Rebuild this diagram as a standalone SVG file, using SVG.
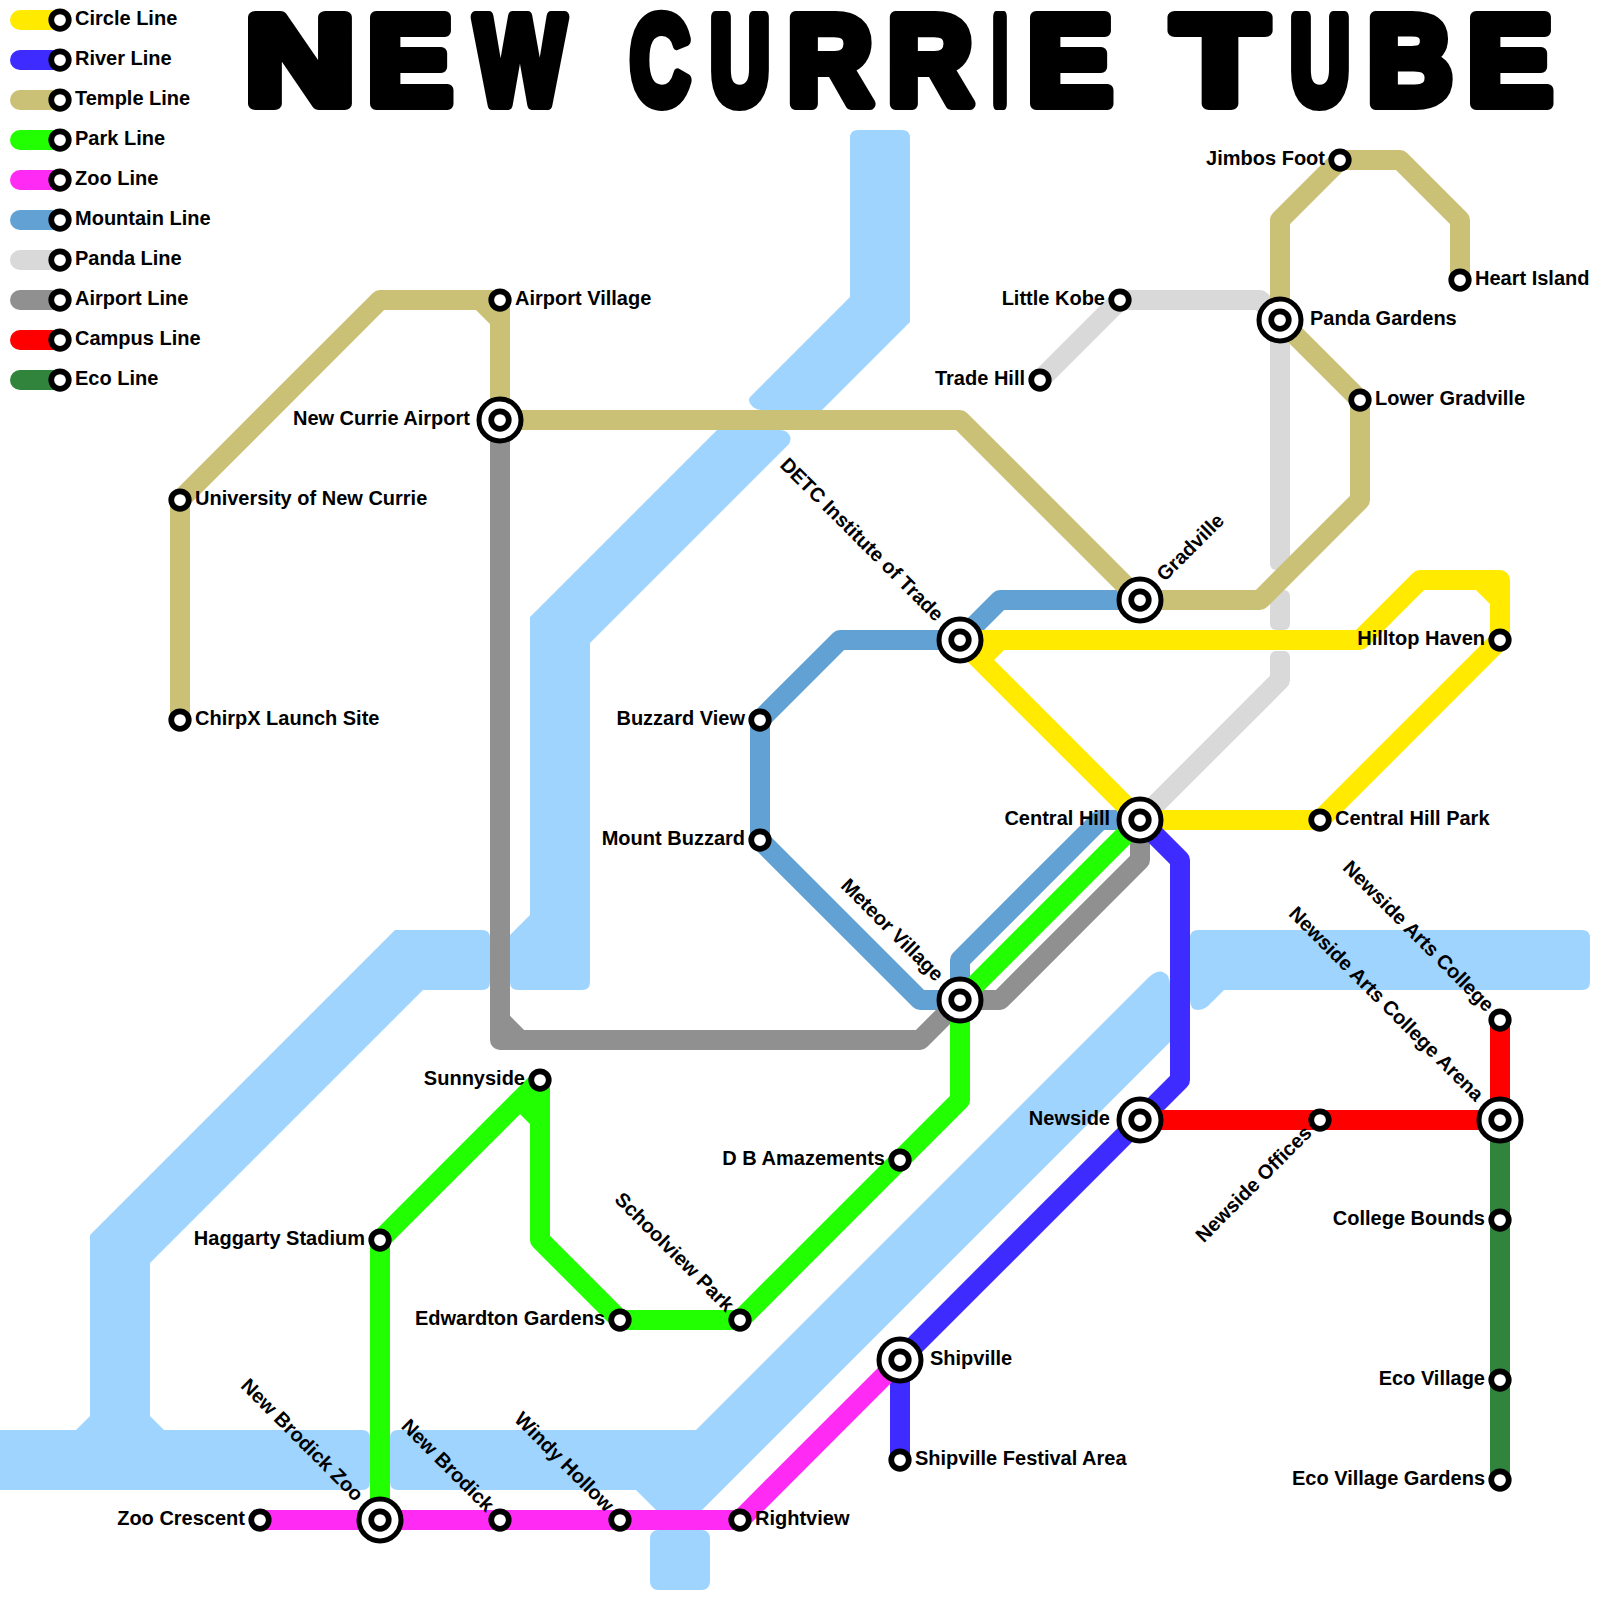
<svg xmlns="http://www.w3.org/2000/svg" width="1600" height="1600" viewBox="0 0 1600 1600">
<style>
text{font-family:"Liberation Sans",Arial,sans-serif;font-weight:bold;font-size:20px;fill:#000}
.e{text-anchor:end}
.title{font-size:127px;stroke:#000;stroke-width:12;stroke-linejoin:round}
.ln{fill:none;stroke-width:20;stroke-linecap:round;stroke-linejoin:round}
.water{fill:#9fd4ff}
.o{fill:#fff;stroke:#000;stroke-width:5.75}
.ring{fill:#fff;stroke:#000;stroke-width:5}
.yellow{stroke:#ffea00}.river{stroke:#3d2bff}.temple{stroke:#cac176}.park{stroke:#22ff00}.zoo{stroke:#ff2bf5}.mountain{stroke:#62a1d3}.panda{stroke:#d9d9d9}.airport{stroke:#909090}.campus{stroke:#ff0000}.eco{stroke:#31843c}
</style>
<defs>
<g id="st"><circle class="o" r="8.75"/></g>
<g id="big"><circle class="ring" r="21"/><circle class="o" r="8.75"/></g>
</defs>
<text class="title" y="104"><tspan x="245" textLength="110" lengthAdjust="spacingAndGlyphs">N</tspan><tspan x="367.5" textLength="85" lengthAdjust="spacingAndGlyphs">E</tspan><tspan x="475" textLength="90" lengthAdjust="spacingAndGlyphs">W</tspan> <tspan x="630" textLength="60" lengthAdjust="spacingAndGlyphs">C</tspan><tspan x="710" textLength="60" lengthAdjust="spacingAndGlyphs">U</tspan><tspan x="787.5" textLength="85" lengthAdjust="spacingAndGlyphs">R</tspan><tspan x="887.5" textLength="85" lengthAdjust="spacingAndGlyphs">R</tspan><tspan x="992" textLength="16" lengthAdjust="spacingAndGlyphs">I</tspan><tspan x="1027.5" textLength="85" lengthAdjust="spacingAndGlyphs">E</tspan> <tspan x="1173" textLength="94" lengthAdjust="spacingAndGlyphs">T</tspan><tspan x="1290" textLength="60" lengthAdjust="spacingAndGlyphs">U</tspan><tspan x="1367.5" textLength="85" lengthAdjust="spacingAndGlyphs">B</tspan><tspan x="1467.5" textLength="85" lengthAdjust="spacingAndGlyphs">E</tspan></text>
<g id="water" class="water">
<path d="M858,130H902Q910,130 910,138V322L822,410H762Q756,410 752,406Q746,400 752,395L850,297V138Q850,130 858,130Z"/>
<path d="M717,430H780Q787,430 790,436Q792,442 786,447L590,643V982Q590,990 582,990H518Q510,990 510,982V935L530,915V617Z"/>
<path d="M0,1430H76L90,1416V1235L395,930H482Q490,930 490,938V982Q490,990 482,990H423L150,1263V1416L164,1430H362Q370,1430 370,1438V1482Q370,1490 362,1490H0Z"/>
<path d="M398,1430H696L1148,978Q1160,966 1168,976Q1170,980 1170,986V1042L702,1510H656L636,1490H398Q390,1490 390,1482V1438Q390,1430 398,1430Z"/>
<rect x="650" y="1530" width="60" height="60" rx="8"/>
<path d="M1198,930H1582Q1590,930 1590,938V982Q1590,990 1582,990H1224L1212,1002Q1205,1010 1198,1010Q1190,1010 1190,1000V938Q1190,930 1198,930Z"/>
</g>
<g id="connectors">
<g id="line-panda">
<path class="ln panda" d="M1040,380L1120,300H1260L1280,320"/>
<rect x="1270" y="320" width="20" height="250" rx="6" fill="#d9d9d9"/>
<rect x="1270" y="590" width="20" height="40" rx="6" fill="#d9d9d9"/>
<rect x="1270" y="651" width="20" height="30" rx="6" fill="#d9d9d9"/>
<path class="ln panda" style="stroke-linecap:butt" d="M1280,670V680L1140,820"/>
</g>
<path id="line-mountain" class="ln mountain" d="M760,840V720L840,640H960L1000,600H1140M760,840L920,1000H960V960L1100,820H1140"/>
<path id="line-airport" class="ln airport" d="M500,420V1040H920L960,1000H1000L1140,860V820M500,1020L520,1040"/>
<path id="line-temple" class="ln temple" d="M180,720V500L380,300H500V420H960L1140,600H1260L1360,500V400L1280,320V220L1340,160H1400L1460,220V280M480,300L500,320"/>
<path id="line-yellow" class="ln yellow" d="M1140,820L960,640H1360L1420,580H1500V640L1320,820H1140M1000,640L980,660M1480,580L1500,600"/>
<path id="line-river" class="ln river" d="M1140,820L1180,860V1080L900,1360V1460"/>
<path id="line-park" class="ln park" d="M1140,820L960,1000V1100L740,1320H620L540,1240V1080L380,1240V1520M520,1100L540,1120"/>
<path id="line-zoo" class="ln zoo" d="M260,1520H740L900,1360"/>
<path id="line-campus" class="ln campus" d="M1500,1020V1120H1140"/>
<path id="line-eco" class="ln eco" d="M1500,1120V1480"/>
<g id="legend-lines">
<path class="ln yellow" d="M20,20H60"/><path class="ln river" d="M20,60H60"/><path class="ln temple" d="M20,100H60"/><path class="ln park" d="M20,140H60"/><path class="ln zoo" d="M20,180H60"/><path class="ln mountain" d="M20,220H60"/><path class="ln panda" d="M20,260H60"/><path class="ln airport" d="M20,300H60"/><path class="ln campus" d="M20,340H60"/><path class="ln eco" d="M20,380H60"/>
</g>
</g>
<g id="legend-circle" transform="translate(60,20)"><use href="#st"/><text x="15" y="5">Circle Line</text></g>
<g id="legend-river" transform="translate(60,60)"><use href="#st"/><text x="15" y="5">River Line</text></g>
<g id="legend-temple" transform="translate(60,100)"><use href="#st"/><text x="15" y="5">Temple Line</text></g>
<g id="legend-park" transform="translate(60,140)"><use href="#st"/><text x="15" y="5">Park Line</text></g>
<g id="legend-zoo" transform="translate(60,180)"><use href="#st"/><text x="15" y="5">Zoo Line</text></g>
<g id="legend-mountain" transform="translate(60,220)"><use href="#st"/><text x="15" y="5">Mountain Line</text></g>
<g id="legend-panda" transform="translate(60,260)"><use href="#st"/><text x="15" y="5">Panda Line</text></g>
<g id="legend-airport" transform="translate(60,300)"><use href="#st"/><text x="15" y="5">Airport Line</text></g>
<g id="legend-campus" transform="translate(60,340)"><use href="#st"/><text x="15" y="5">Campus Line</text></g>
<g id="legend-eco" transform="translate(60,380)"><use href="#st"/><text x="15" y="5">Eco Line</text></g>
<g id="airport-village" transform="translate(500,300)"><use href="#st"/><text x="15" y="5">Airport Village</text></g>
<g id="new-currie-airport" transform="translate(500,420)"><use href="#big"/><text class="e" x="-30" y="5">New Currie Airport</text></g>
<g id="university" transform="translate(180,500)"><use href="#st"/><text x="15" y="5">University of New Currie</text></g>
<g id="chirpx" transform="translate(180,720)"><use href="#st"/><text x="15" y="5">ChirpX Launch Site</text></g>
<g id="little-kobe" transform="translate(1120,300)"><use href="#st"/><text class="e" x="-15" y="5">Little Kobe</text></g>
<g id="trade-hill" transform="translate(1040,380)"><use href="#st"/><text class="e" x="-15" y="5">Trade Hill</text></g>
<g id="jimbos-foot" transform="translate(1340,160)"><use href="#st"/><text class="e" x="-15" y="5">Jimbos Foot</text></g>
<g id="heart-island" transform="translate(1460,280)"><use href="#st"/><text x="15" y="5">Heart Island</text></g>
<g id="panda-gardens" transform="translate(1280,320)"><use href="#big"/><text x="30" y="5">Panda Gardens</text></g>
<g id="lower-gradville" transform="translate(1360,400)"><use href="#st"/><text x="15" y="5">Lower Gradville</text></g>
<g id="gradville" transform="translate(1140,600)"><use href="#big"/><text transform="rotate(-45)" x="30" y="5">Gradville</text></g>
<g id="detc" transform="translate(960,640)"><use href="#big"/><text class="e" transform="rotate(45)" x="-30" y="5">DETC Institute of Trade</text></g>
<g id="hilltop-haven" transform="translate(1500,640)"><use href="#st"/><text class="e" x="-15" y="5">Hilltop Haven</text></g>
<g id="central-hill" transform="translate(1140,820)"><use href="#big"/><text class="e" x="-30" y="5">Central Hill</text></g>
<g id="central-hill-park" transform="translate(1320,820)"><use href="#st"/><text x="15" y="5">Central Hill Park</text></g>
<g id="buzzard-view" transform="translate(760,720)"><use href="#st"/><text class="e" x="-15" y="5">Buzzard View</text></g>
<g id="mount-buzzard" transform="translate(760,840)"><use href="#st"/><text class="e" x="-15" y="5">Mount Buzzard</text></g>
<g id="meteor-village" transform="translate(960,1000)"><use href="#big"/><text class="e" transform="rotate(45)" x="-30" y="5">Meteor Village</text></g>
<g id="newside-arts-college" transform="translate(1500,1020)"><use href="#st"/><text class="e" transform="rotate(45)" x="-15" y="5">Newside Arts College</text></g>
<g id="newside-arts-college-arena" transform="translate(1500,1120)"><use href="#big"/><text class="e" transform="rotate(45)" x="-30" y="5">Newside Arts College Arena</text></g>
<g id="newside" transform="translate(1140,1120)"><use href="#big"/><text class="e" x="-30" y="5">Newside</text></g>
<g id="newside-offices" transform="translate(1320,1120)"><use href="#st"/><text class="e" transform="rotate(-45)" x="-15" y="5">Newside Offices</text></g>
<g id="college-bounds" transform="translate(1500,1220)"><use href="#st"/><text class="e" x="-15" y="5">College Bounds</text></g>
<g id="eco-village" transform="translate(1500,1380)"><use href="#st"/><text class="e" x="-15" y="5">Eco Village</text></g>
<g id="eco-village-gardens" transform="translate(1500,1480)"><use href="#st"/><text class="e" x="-15" y="5">Eco Village Gardens</text></g>
<g id="sunnyside" transform="translate(540,1080)"><use href="#st"/><text class="e" x="-15" y="5">Sunnyside</text></g>
<g id="db-amazements" transform="translate(900,1160)"><use href="#st"/><text class="e" x="-15" y="5">D B Amazements</text></g>
<g id="haggarty-stadium" transform="translate(380,1240)"><use href="#st"/><text class="e" x="-15" y="5">Haggarty Stadium</text></g>
<g id="schoolview-park" transform="translate(740,1320)"><use href="#st"/><text class="e" transform="rotate(45)" x="-15" y="5">Schoolview Park</text></g>
<g id="edwardton-gardens" transform="translate(620,1320)"><use href="#st"/><text class="e" x="-15" y="5">Edwardton Gardens</text></g>
<g id="shipville" transform="translate(900,1360)"><use href="#big"/><text x="30" y="5">Shipville</text></g>
<g id="shipville-festival-area" transform="translate(900,1460)"><use href="#st"/><text x="15" y="5">Shipville Festival Area</text></g>
<g id="zoo-crescent" transform="translate(260,1520)"><use href="#st"/><text class="e" x="-15" y="5">Zoo Crescent</text></g>
<g id="new-brodick-zoo" transform="translate(380,1520)"><use href="#big"/><text class="e" transform="rotate(45)" x="-30" y="5">New Brodick Zoo</text></g>
<g id="new-brodick" transform="translate(500,1520)"><use href="#st"/><text class="e" transform="rotate(45)" x="-15" y="5">New Brodick</text></g>
<g id="windy-hollow" transform="translate(620,1520)"><use href="#st"/><text class="e" transform="rotate(45)" x="-15" y="5">Windy Hollow</text></g>
<g id="rightview" transform="translate(740,1520)"><use href="#st"/><text x="15" y="5">Rightview</text></g>
</svg>
